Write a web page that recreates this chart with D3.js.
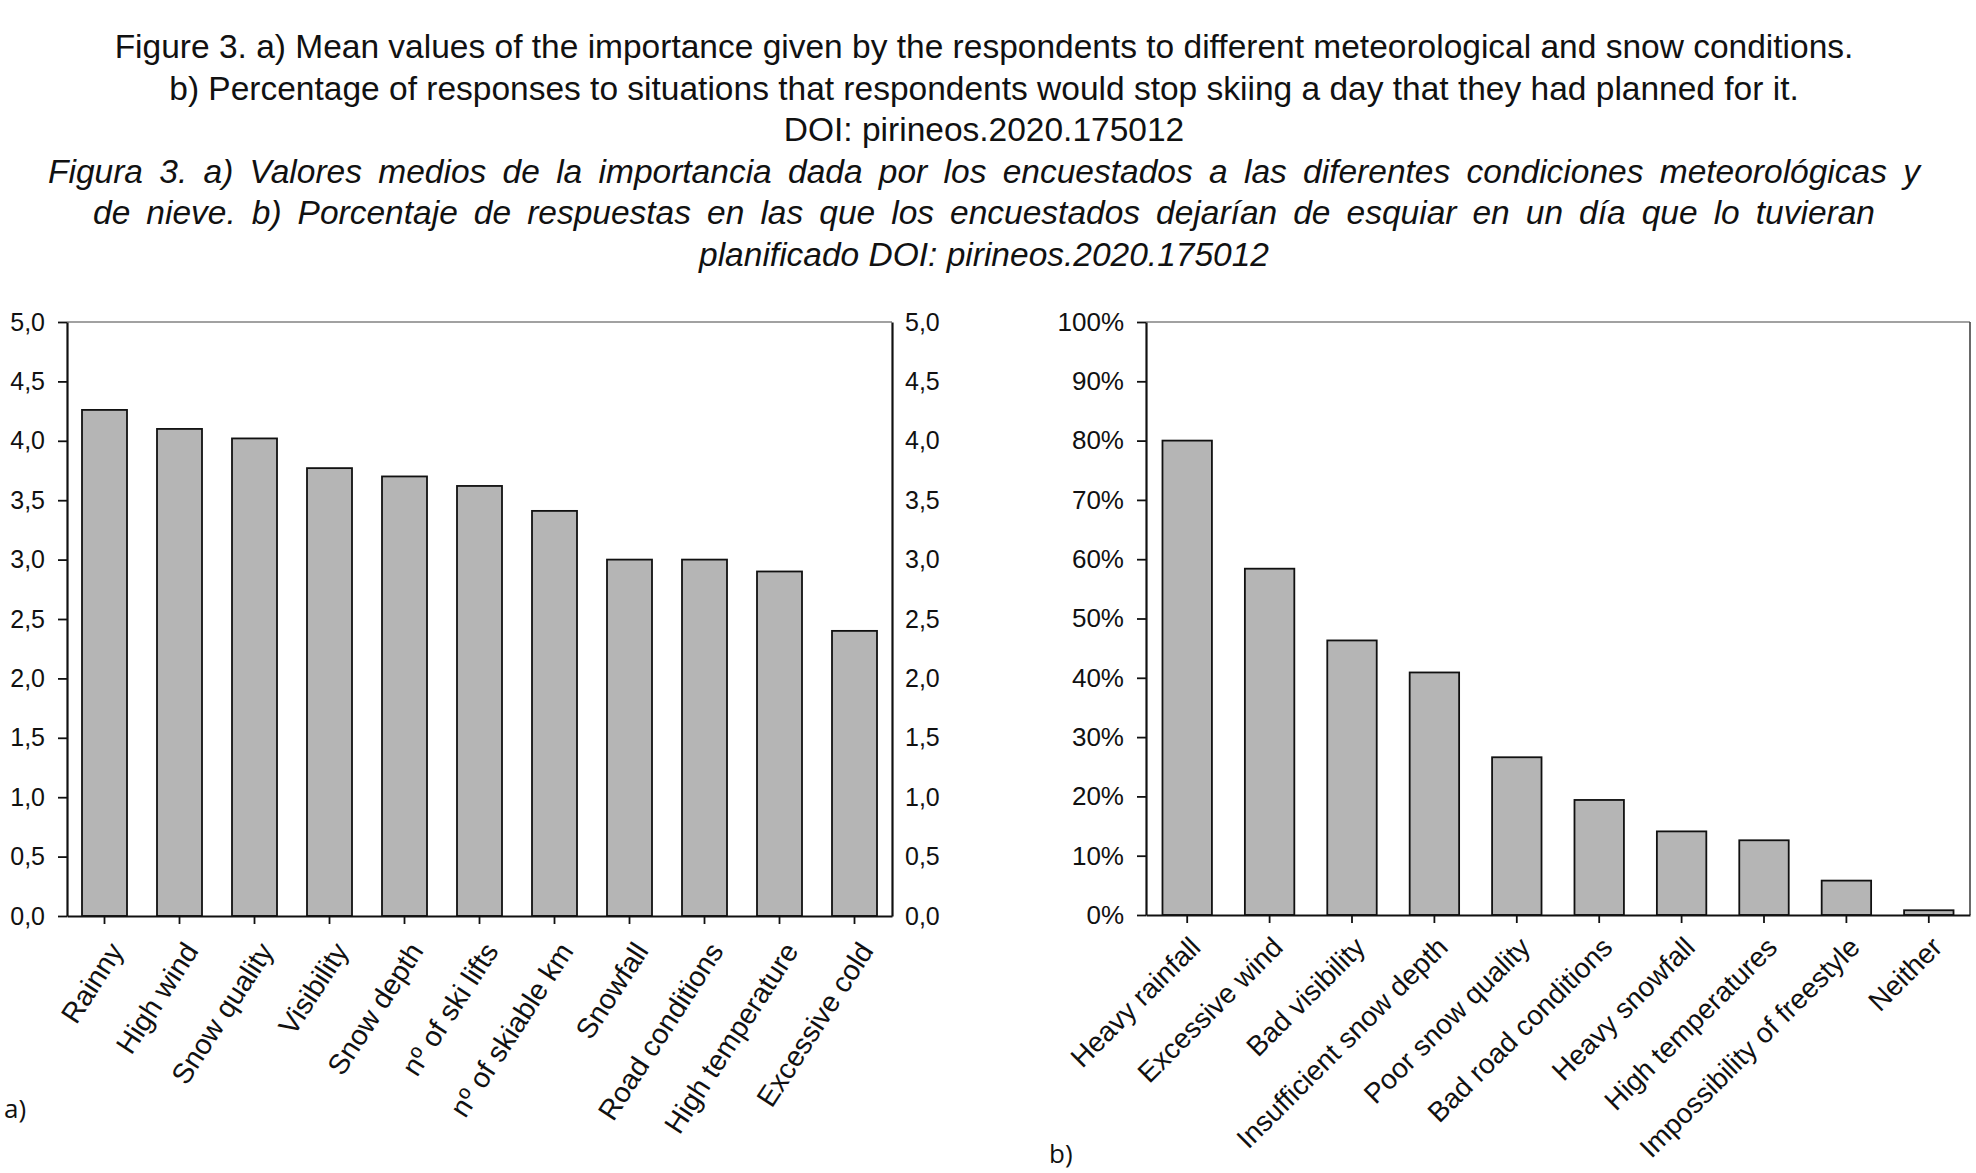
<!DOCTYPE html>
<html>
<head>
<meta charset="utf-8">
<script src="https://cdn.jsdelivr.net/npm/d3@7"></script>
<style>
  body { margin: 0; background: #fff; }
  svg { display: block; }
  text { font-family: "Liberation Sans", Arial, sans-serif; fill: #111; }
</style>
</head>
<body>
<div id="chart"></div>
<script>
// chart a)
var conditions = ["Rainny", "High wind", "Snow quality", "Visibility", "Snow depth",
  "nº of ski lifts", "nº of skiable km", "Snowfall", "Road conditions",
  "High temperature", "Excessive cold"];
var meanValues = [4.26, 4.10, 4.02, 3.77, 3.70, 3.62, 3.41, 3.00, 3.00, 2.90, 2.40];
var meanTicks = [0, 0.5, 1, 1.5, 2, 2.5, 3, 3.5, 4, 4.5, 5];

// chart b)
var situations = ["Heavy rainfall", "Excessive wind", "Bad visibility",
  "Insufficient snow depth", "Poor snow quality", "Bad road conditions",
  "Heavy snowfall", "High temperatures", "Impossibility of freestyle", "Neither"];
var percentValues = [80.0, 58.4, 46.3, 40.9, 26.6, 19.4, 14.1, 12.6, 5.8, 0.8];
var percentTicks = [0, 10, 20, 30, 40, 50, 60, 70, 80, 90, 100];

var titleLines = [
  "Figure 3. a) Mean values of the importance given by the respondents to different meteorological and snow conditions.",
  "b) Percentage of responses to situations that respondents would stop skiing a day that they had planned for it.",
  "DOI: pirineos.2020.175012",
  "Figura 3. a) Valores medios de la importancia dada por los encuestados a las diferentes condiciones meteorológicas y",
  "de nieve. b) Porcentaje de respuestas en las que los encuestados dejarían de esquiar en un día que lo tuvieran",
  "planificado DOI: pirineos.2020.175012"
];

const WIDTH = 1976;
const HEIGHT = 1173;

var comma = d3.formatLocale({decimal: ",", thousands: ".", grouping: [3], currency: ["", ""]});
var fmtMean = comma.format(".1f");

var svg = d3.select("#chart").append("svg")
  .attr("width", WIDTH)
  .attr("height", HEIGHT);

// titles, the spanish lines are stretched like a justified paragraph
var titleY = [58, 100, 141, 183, 224, 266];
var justify = {3: [47, 1919], 4: [92, 1874]};
titleLines.forEach(function(line, i){
  var t = svg.append("text")
    .attr("x", 984)
    .attr("y", titleY[i])
    .attr("text-anchor", "middle")
    .style("font-size", "33.5px")
    .style("font-style", i >= 3 ? "italic" : "normal")
    .text(line);
  if (justify[i]) {
    var target = justify[i][1] - justify[i][0];
    var natural = t.node().getComputedTextLength();
    var spaces = line.split(" ").length - 1;
    t.style("word-spacing", ((target - natural) / spaces) + "px");
  }
});

var styleAxis = function(sel, width){
  sel.select(".domain").attr("stroke", "#111").attr("stroke-width", width);
  sel.selectAll(".tick line").attr("stroke", "#111").attr("stroke-width", 1.8);
  sel.selectAll(".tick text").style("fill", "#111");
};

var barChart = function(opts){
  var g = svg.append("g")
    .attr("transform", "translate(" + opts.left + "," + opts.top + ")");
  var w = opts.right - opts.left;
  var h = opts.bottom - opts.top;

  var x = d3.scaleBand().domain(opts.categories).range([0, w]).paddingInner(0.4).paddingOuter(0.2);
  var y = d3.scaleLinear().domain([opts.ticks[0], opts.ticks[opts.ticks.length - 1]]).range([h, 0]);

  // thin top border of the frame
  g.append("line").attr("x1", 0).attr("x2", w).attr("y1", 0).attr("y2", 0)
    .attr("stroke", "#444").attr("stroke-width", 1.2);

  g.selectAll("rect.bar")
    .data(opts.values)
    .enter().append("rect")
    .attr("class", "bar")
    .attr("x", function(d, i){ return x(opts.categories[i]); })
    .attr("y", function(d){ return y(d); })
    .attr("width", x.bandwidth())
    .attr("height", function(d){ return h - y(d); })
    .attr("fill", "#b5b5b5")
    .attr("stroke", "#111")
    .attr("stroke-width", 1.8);

  var yAxis = g.append("g")
    .call(d3.axisLeft(y).tickValues(opts.ticks).tickFormat(opts.format).tickSize(9).tickPadding(13).tickSizeOuter(0));
  yAxis.selectAll(".tick text").style("font-size", opts.tickFont + "px");
  styleAxis(yAxis, 2.2);

  if (opts.rightAxis) {
    var yAxisR = g.append("g")
      .attr("transform", "translate(" + w + ",0)")
      .call(d3.axisRight(y).tickValues(opts.ticks).tickFormat(opts.format).tickSize(0).tickPadding(13).tickSizeOuter(0));
    yAxisR.selectAll(".tick text").style("font-size", opts.tickFont + "px");
    styleAxis(yAxisR, 2.2);
  } else {
    g.append("line").attr("x1", w).attr("x2", w).attr("y1", 0).attr("y2", h)
      .attr("stroke", "#444").attr("stroke-width", 1.6);
  }

  var xAxis = g.append("g")
    .attr("transform", "translate(0," + h + ")")
    .call(d3.axisBottom(x).tickSize(8).tickSizeOuter(0));
  styleAxis(xAxis, 2.2);
  xAxis.selectAll(".tick text")
    .style("font-size", opts.labelFont + "px")
    .attr("text-anchor", "end")
    .attr("dy", null)
    .attr("y", null)
    .attr("transform", "translate(" + opts.labelDx + "," + opts.labelDy + ") rotate(" + opts.angle + ")");
};

barChart({
  left: 67, right: 892, top: 322, bottom: 916,
  categories: conditions, values: meanValues, ticks: meanTicks,
  format: fmtMean, tickFont: 25, rightAxis: true,
  angle: -57, labelDx: 20, labelDy: 35, labelFont: 28.5
});

barChart({
  left: 1146, right: 1970, top: 322, bottom: 915,
  categories: situations, values: percentValues, ticks: percentTicks,
  format: function(d){ return d + "%"; }, tickFont: 26, rightAxis: false,
  angle: -45, labelDx: 15, labelDy: 34, labelFont: 28
});

svg.append("text").attr("x", 4).attr("y", 1118)
  .style("font-family", "'Open Sans', sans-serif").style("font-size", "26px").text("a)");
svg.append("text").attr("x", 1049).attr("y", 1163)
  .style("font-family", "'Open Sans', sans-serif").style("font-size", "26px").text("b)");
</script>
</body>
</html>
